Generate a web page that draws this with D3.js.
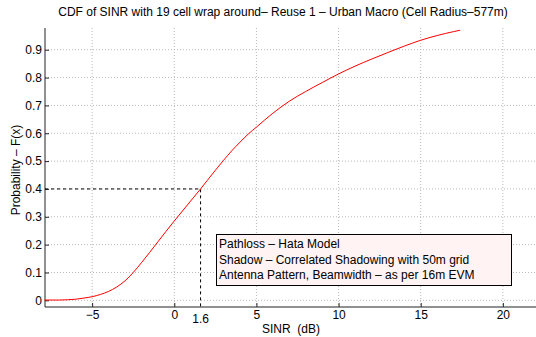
<!DOCTYPE html>
<html>
<head>
<script src="https://d3js.org/d3.v7.min.js"></script>
<style>
  body { margin: 0; background: #fff; }
  text { font-family: "Liberation Sans", Arial, sans-serif; font-size: 12px; fill: #000; }
</style>
</head>
<body>
<svg id="mainSvg" width="536" height="337"></svg>
<script>
// data
const sinr = [-7.9, -7, -6.5, -6, -5.5, -5, -4.5, -4, -3.5, -3, -2.5, -2, -1.5, -1, -0.5, 0, 0.5, 1, 1.6, 2, 2.5, 3, 3.5, 4, 4.5, 5, 6, 7, 8, 9, 10, 11, 12, 13, 14, 15, 16, 17, 17.4];
const cdf = [0.001, 0.001, 0.002, 0.004, 0.008, 0.013, 0.021, 0.032, 0.048, 0.07, 0.1, 0.135, 0.172, 0.21, 0.248, 0.285, 0.321, 0.357, 0.40, 0.43, 0.467, 0.503, 0.537, 0.568, 0.597, 0.622, 0.672, 0.715, 0.75, 0.782, 0.813, 0.841, 0.866, 0.89, 0.913, 0.934, 0.951, 0.965, 0.97];
const xTicks = [-5, 0, 5, 10, 15, 20];
const yTicks = [0, 0.1, 0.2, 0.3, 0.4, 0.5, 0.6, 0.7, 0.8, 0.9];
const marker = {x: 1.6, y: 0.4};
const noteLines = [
  "Pathloss \u2013 Hata Model",
  "Shadow \u2013 Correlated Shadowing with 50m grid",
  "Antenna Pattern, Beamwidth \u2013 as per 16m EVM"
];

const svg = d3.select("#mainSvg");

const xScale = d3.scaleLinear().domain([-7.87, 22.2]).range([45, 539]);
const yScale = d3.scaleLinear().domain([-0.024, 0.978]).range([307, 28]);

const xLeft = xScale.range()[0], xRight = xScale.range()[1];
const yTop = yScale.range()[1], yBottom = yScale.range()[0];

// grid
const grid = svg.append("g").attr("stroke", "#b8b8b8").attr("stroke-dasharray", "1,2");
grid.selectAll(".gx").data(xTicks).enter().append("line")
  .attr("x1", d => xScale(d)).attr("x2", d => xScale(d))
  .attr("y1", yTop).attr("y2", yBottom);
grid.selectAll(".gy").data(yTicks).enter().append("line")
  .attr("x1", xLeft).attr("x2", xRight)
  .attr("y1", d => yScale(d)).attr("y2", d => yScale(d));

// axes (ticks inward)
const xAxis = d3.axisBottom(xScale).tickValues(xTicks).tickSize(-4).tickPadding(3)
  .tickFormat(d => d < 0 ? "\u2212" + Math.abs(d) : d);
const gx = svg.append("g").attr("transform", `translate(0,${yBottom})`).call(xAxis);
const yAxis = d3.axisLeft(yScale).tickValues(yTicks).tickSize(-4).tickPadding(3)
  .tickFormat(d => d === 0 ? "0" : d3.format(".1f")(d));
const gy = svg.append("g").attr("transform", `translate(${xLeft},0)`).call(yAxis);
[gx, gy].forEach(g => {
  g.select(".domain").attr("stroke", "#222");
  g.selectAll(".tick line").attr("stroke", "#222");
  g.selectAll(".tick text").attr("font-size", 12).attr("font-family", "Liberation Sans, Arial, sans-serif");
});
gx.select(".domain").attr("d", `M${xLeft},0H${xRight}`);
gy.select(".domain").attr("d", `M0,${yTop}V${yBottom}`);

// dashed marker lines
svg.append("path")
  .attr("d", `M${xLeft},${yScale(marker.y)}H${xScale(marker.x)}V${yBottom}`)
  .attr("fill", "none").attr("stroke", "#000").attr("stroke-dasharray", "3,3");
svg.append("text").attr("x", xScale(marker.x)).attr("y", 323)
  .attr("text-anchor", "middle").text(marker.x);

// curve
const line = d3.line().x((d, i) => xScale(sinr[i])).y(d => yScale(d)).curve(d3.curveMonotoneX);
svg.append("path").datum(cdf).attr("d", line)
  .attr("fill", "none").attr("stroke", "#ff0000").attr("stroke-width", 1);

// note box
svg.append("rect").attr("x", 216.5).attr("y", 234.5).attr("width", 295).attr("height", 51)
  .attr("fill", "#fff3f3").attr("stroke", "#000");
svg.selectAll(".note").data(noteLines).enter().append("text")
  .attr("x", 219).attr("y", (d, i) => 248 + i * 15.5).attr("font-size", 12.2).text(d => d);

// labels
svg.append("text").attr("x", 283).attr("y", 16).attr("text-anchor", "middle")
  .text("CDF of SINR with 19 cell wrap around\u2013 Reuse 1 \u2013 Urban Macro (Cell Radius\u2013577m)");
svg.append("text").attr("x", 291).attr("y", 333).attr("text-anchor", "middle")
  .style("white-space", "pre").text("SINR  (dB)");
svg.append("text").attr("transform", "translate(20,170) rotate(-90)").attr("text-anchor", "middle")
  .text("Probability \u2013 F(x)");
</script>
</body>
</html>
